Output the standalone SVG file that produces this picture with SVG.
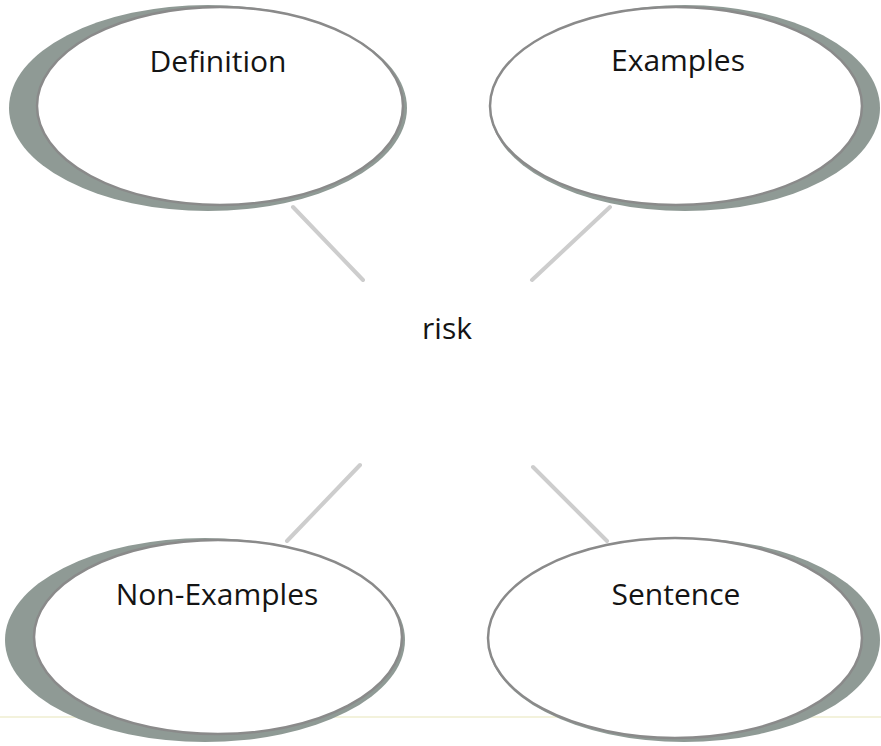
<svg xmlns="http://www.w3.org/2000/svg" width="881" height="746" viewBox="0 0 881 746">
  <style>
    .shadow { fill: #8f9a95; }
    .inner { fill: #ffffff; stroke: #8a8a8a; stroke-width: 2.5; }
    .label { font-family: "Open Sans", "Liberation Sans", sans-serif; font-size: 30px; font-weight: 500; fill: #141414; text-anchor: middle; }
    .conn { stroke: #cdcdcd; stroke-width: 4; stroke-linecap: round; fill: none; }
  </style>
  <rect width="881" height="746" fill="#ffffff"/>
  <line x1="0" y1="717" x2="881" y2="717" stroke="#f3f2dc" stroke-width="2"/>
  <g id="connectors">
    <line class="conn" x1="293" y1="207" x2="363" y2="280"/>
    <line class="conn" x1="610" y1="207" x2="532" y2="280"/>
    <line class="conn" x1="360" y1="465" x2="287" y2="541"/>
    <line class="conn" x1="533" y1="467" x2="607" y2="541"/>
  </g>
  <g id="definition">
    <ellipse class="shadow" cx="208" cy="108" rx="199" ry="103"/>
    <ellipse class="inner" cx="220" cy="106" rx="183" ry="99"/>
    <text class="label" x="218" y="72">Definition</text>
  </g>
  <g id="examples">
    <ellipse class="shadow" cx="685" cy="108" rx="195" ry="103"/>
    <ellipse class="inner" cx="676" cy="106" rx="186" ry="99"/>
    <text class="label" x="678" y="71">Examples</text>
  </g>
  <g id="risk">
    <text class="label" x="447" y="339">risk</text>
  </g>
  <g id="non-examples">
    <ellipse class="shadow" cx="205" cy="640" rx="200" ry="102"/>
    <ellipse class="inner" cx="218" cy="637" rx="184" ry="97"/>
    <text class="label" x="217" y="605">Non-Examples</text>
  </g>
  <g id="sentence">
    <ellipse class="shadow" cx="684" cy="640" rx="196" ry="102"/>
    <ellipse class="inner" cx="675" cy="638" rx="187" ry="100"/>
    <text class="label" x="676" y="605">Sentence</text>
  </g>
</svg>
